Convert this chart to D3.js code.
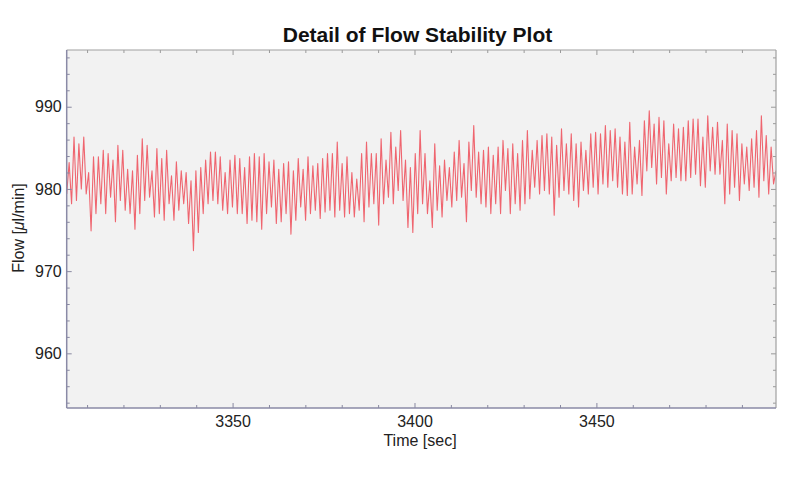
<!DOCTYPE html>
<html>
<head>
<meta charset="utf-8">
<script src="https://cdn.jsdelivr.net/npm/d3@7"></script>
<style>
  html, body { margin: 0; padding: 0; background: #ffffff; }
  svg { display: block; font-family: "Liberation Sans", Arial, Helvetica, sans-serif; }
</style>
</head>
<body>
<svg id="chart" width="800" height="481"></svg>
<script>
// ---- data ----
const chartTitle = "Detail of Flow Stability Plot";
const xAxisTitle = "Time [sec]";
const timeStart = 3304.4;      // sec, first sample
const sampleInterval = 0.67;   // sec between samples
const xMajorTicks = [3350, 3400, 3450];
const yMajorTicks = [960, 970, 980, 990];
const flow = [
  979.4,
  983.2, 978.2, 986.3, 978.6, 985.5, 980.0, 986.3, 979.4, 982.0, 974.9,
  983.9, 977.0, 983.9, 978.2, 984.7, 977.0, 984.3, 979.0, 983.5, 976.0,
  985.3, 978.6, 984.7, 977.4, 982.4, 977.0, 982.2, 975.1, 984.1, 977.0,
  986.1, 978.6, 985.3, 979.0, 982.2, 976.6,
  984.9, 977.0, 983.7, 976.2, 984.7, 978.2, 981.6, 976.2, 983.3, 977.4,
  982.2, 978.2, 982.0, 975.8, 981.0, 972.5, 982.2, 974.7, 982.6, 977.0,
  983.5, 978.2, 984.5, 978.6, 984.5, 978.2, 983.9, 977.4, 982.0, 977.0,
  983.5, 977.8, 984.1, 977.0,
  983.7, 977.0, 982.6, 975.8, 983.9, 976.2, 984.3, 976.0, 983.9, 975.1,
  984.3, 977.0, 983.3, 977.8, 983.5, 975.8, 982.4, 976.0, 983.1, 977.0,
  983.3, 974.5, 982.2, 976.2, 983.7, 977.8, 982.4, 976.2, 983.9, 977.0,
  982.8, 977.4, 983.1, 976.4, 983.7, 977.2, 984.3, 977.4,
  984.3, 976.6, 985.7, 977.4, 983.1, 976.6, 983.9, 977.0, 982.0, 976.6,
  981.2, 977.4, 984.3, 976.0, 985.7, 977.8, 984.3, 978.2, 984.3, 975.6,
  986.1, 978.2, 983.5, 979.0, 986.9, 978.2, 985.1, 979.8, 987.1, 978.6,
  983.5, 975.3, 982.6, 974.7, 984.3, 977.0,
  987.1, 978.2, 984.3, 977.0, 981.0, 975.3, 985.5, 977.4, 982.8, 976.6,
  983.5, 978.6, 982.6, 977.8, 984.5, 978.6, 985.9, 979.0, 983.1, 976.0,
  985.7, 979.8, 987.7, 979.0, 984.5, 978.2, 984.7, 977.8, 985.1, 977.0,
  984.1, 978.2, 985.1, 977.0, 985.9, 979.8,
  984.9, 977.0, 985.5, 978.2, 984.3, 977.4, 985.9, 978.2, 987.1, 978.8,
  984.7, 980.2, 985.9, 979.4, 986.5, 979.8, 986.7, 979.4, 986.3, 976.8,
  985.3, 979.0, 987.3, 979.8, 985.5, 979.4, 986.7, 978.6, 985.5, 977.8,
  985.7, 979.8, 984.7, 979.4, 986.7, 980.2,
  986.9, 979.4, 986.7, 980.6, 987.7, 980.2, 987.1, 981.0, 987.3, 980.2,
  986.3, 979.4, 985.7, 979.2, 988.1, 979.4, 985.1, 980.6, 985.9, 979.2,
  988.3, 982.2, 989.5, 982.6, 987.9, 980.6, 988.7, 981.4, 988.3, 979.4,
  985.5, 981.0, 987.9, 981.4, 987.3, 981.0,
  987.5, 981.0, 988.3, 981.4, 988.5, 981.8, 988.5, 980.4, 986.3, 980.2,
  988.9, 982.2, 987.5, 981.8, 988.1, 981.8, 985.9, 978.2, 987.9, 979.4,
  987.1, 980.2, 986.7, 978.6, 985.5, 980.6, 985.1, 979.8, 986.1, 980.2,
  987.1, 979.0, 988.9, 981.0, 986.5, 979.4, 985.1, 980.6,
  982.2
];

// ---- layout ----
const svg = d3.select("#chart");
const plot = { left: 66.7, top: 50, right: 776, bottom: 408 };
const series = flow.map((v, i) => ({ t: timeStart + i * sampleInterval, v }));
const tEnd = timeStart + (flow.length - 1) * sampleInterval;

const x = d3.scaleLinear().domain([timeStart, tEnd]).range([plot.left, plot.right]);
const y = d3.scaleLinear().domain([953.35, 996.9]).range([plot.bottom, plot.top]);

// background
svg.append("rect")
  .attr("x", plot.left).attr("y", plot.top)
  .attr("width", plot.right - plot.left).attr("height", plot.bottom - plot.top)
  .attr("fill", "#f2f2f2");

// clip
svg.append("clipPath").attr("id", "clip").append("rect")
  .attr("x", plot.left).attr("y", plot.top)
  .attr("width", plot.right - plot.left).attr("height", plot.bottom - plot.top);

// data line
svg.append("path")
  .datum(series)
  .attr("clip-path", "url(#clip)")
  .attr("fill", "none")
  .attr("stroke", "#ee5560")
  .attr("stroke-opacity", 0.9)
  .attr("stroke-width", 1.1)
  .attr("stroke-linejoin", "round")
  .attr("d", d3.line().x(d => x(d.t)).y(d => y(d.v)));

// tick sets
const xMinor = d3.range(3310, 3500, 10).filter(t => !xMajorTicks.includes(t));
const yMinor = d3.range(954, 997, 2).filter(v => !yMajorTicks.includes(v));

function styleAxis(g, color) {
  g.select(".domain").remove();
  g.selectAll(".tick line").attr("stroke", color).attr("stroke-width", 1);
  g.selectAll(".tick text").attr("fill", "#222").attr("font-size", 16);
}

// bottom axis (labels)
const gb = svg.append("g").attr("transform", `translate(0,${plot.bottom})`)
  .call(d3.axisBottom(x).tickValues(xMajorTicks).tickSize(-5).tickPadding(8).tickFormat(d3.format("d")));
styleAxis(gb, "#8888a0");
const gbm = svg.append("g").attr("transform", `translate(0,${plot.bottom})`)
  .call(d3.axisBottom(x).tickValues(xMinor).tickSize(-3).tickFormat(""));
styleAxis(gbm, "#8888a0");
// top ticks
const gt = svg.append("g").attr("transform", `translate(0,${plot.top})`)
  .call(d3.axisTop(x).tickValues(xMajorTicks).tickSize(-5).tickFormat(""));
styleAxis(gt, "#999");
const gtm = svg.append("g").attr("transform", `translate(0,${plot.top})`)
  .call(d3.axisTop(x).tickValues(xMinor).tickSize(-3).tickFormat(""));
styleAxis(gtm, "#999");

// left axis
const gl = svg.append("g").attr("transform", `translate(${plot.left},0)`)
  .call(d3.axisLeft(y).tickValues(yMajorTicks).tickSize(-5).tickPadding(5).tickFormat(d3.format("d")));
styleAxis(gl, "#8888a0");
const glm = svg.append("g").attr("transform", `translate(${plot.left},0)`)
  .call(d3.axisLeft(y).tickValues(yMinor).tickSize(-3).tickFormat(""));
styleAxis(glm, "#8888a0");
// right ticks
const gr = svg.append("g").attr("transform", `translate(${plot.right},0)`)
  .call(d3.axisRight(y).tickValues(yMajorTicks).tickSize(-5).tickFormat(""));
styleAxis(gr, "#999");
const grm = svg.append("g").attr("transform", `translate(${plot.right},0)`)
  .call(d3.axisRight(y).tickValues(yMinor).tickSize(-3).tickFormat(""));
styleAxis(grm, "#999");

// frame
svg.append("line").attr("x1", plot.left).attr("x2", plot.right).attr("y1", plot.top).attr("y2", plot.top)
  .attr("stroke", "#a0a0a0").attr("stroke-width", 1.2);
svg.append("line").attr("x1", plot.right).attr("x2", plot.right).attr("y1", plot.top).attr("y2", plot.bottom)
  .attr("stroke", "#a0a0a0").attr("stroke-width", 1.2);
svg.append("line").attr("x1", plot.left).attr("x2", plot.right).attr("y1", plot.bottom).attr("y2", plot.bottom)
  .attr("stroke", "#8a8aa6").attr("stroke-width", 1.5);
svg.append("line").attr("x1", plot.left).attr("x2", plot.left).attr("y1", plot.top).attr("y2", plot.bottom)
  .attr("stroke", "#8a8aa6").attr("stroke-width", 1.5);

// title
svg.append("text")
  .attr("x", 417.5).attr("y", 41.5)
  .attr("text-anchor", "middle")
  .attr("font-size", 21).attr("font-weight", "bold").attr("fill", "#111")
  .text(chartTitle);

// x axis title
svg.append("text")
  .attr("x", 420).attr("y", 446)
  .attr("text-anchor", "middle")
  .attr("font-size", 16).attr("fill", "#222")
  .text(xAxisTitle);

// y axis title
const yt = svg.append("text")
  .attr("transform", "translate(24,228) rotate(-90)")
  .attr("text-anchor", "middle")
  .attr("font-size", 16).attr("fill", "#222");
yt.append("tspan").text("Flow [");
yt.append("tspan").attr("font-style", "italic").text("\u03BC");
yt.append("tspan").text("l/min]");
</script>
</body>
</html>
